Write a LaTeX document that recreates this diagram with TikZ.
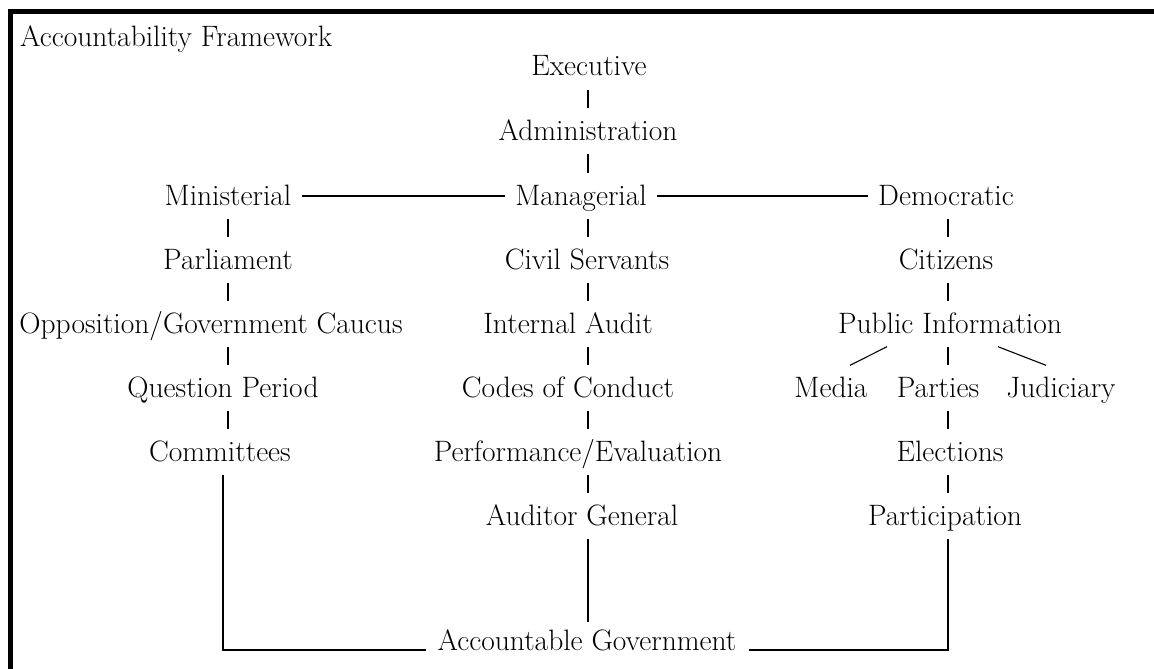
\documentclass[tikz,border=0pt]{standalone}
\begin{document}
\begin{tikzpicture}[x=1pt,y=-1pt,
  lbl/.style={anchor=base, font=\fontsize{29.5}{34}\selectfont,
    text height=18pt, text depth=0pt, inner xsep=10pt, inner ysep=13.5pt},
  link/.style={line width=1.1pt}]
\useasboundingbox (0,0) rectangle (1154,669);
\fill[white] (0,0) rectangle (1154,669);
% frame: left and top rules only
\draw[line width=5pt, line join=miter] (10.5,669) -- (10.5,11.5) -- (1154,11.5);

% column axes and helper positions
\coordinate (colL) at (228,0);
\coordinate (colM) at (588,0);
\coordinate (colR) at (948,0);
\coordinate (colB) at (223,0);
\coordinate (floor) at (0,650);
\coordinate (dA) at (887,0);
\coordinate (dB) at (850,0);
\coordinate (dC) at (998,0);
\coordinate (dD) at (1046,0);

\node[lbl, anchor=base west, inner sep=0pt] (title) at (20,47) {Accountability Framework};

% centre column
\node[lbl] (exec)  at (589,76)  {Executive};
\node[lbl] (admin) at (588,140) {Administration};
\node[lbl] (mgr)   at (581,205) {Managerial};
\node[lbl] (civ)   at (587,269) {Civil Servants};
\node[lbl] (ia)    at (568,333) {Internal Audit};
\node[lbl] (codes) at (568,397) {Codes of Conduct};
\node[lbl] (perf)  at (578,461) {Performance/Evaluation};
\node[lbl] (aud)   at (582,525) {Auditor General};

% left column
\node[lbl] (min)   at (228,205) {Ministerial};
\node[lbl] (parl)  at (228,269) {Parliament};
\node[lbl] (opp)   at (211,333) {Opposition/Government Caucus};
\node[lbl] (qp)    at (223,397) {Question Period};
\node[lbl] (comm)  at (220,461) {Committees};

% right column
\node[lbl] (dem)   at (946,205) {Democratic};
\node[lbl] (cit)   at (946,269) {Citizens};
\node[lbl] (pub)   at (950,333) {Public Information};
\node[lbl] (media) at (831,397) {Media};
\node[lbl] (par)   at (938,397) {Parties};
\node[lbl] (jud)   at (1061,397) {Judiciary};
\node[lbl] (elec)  at (950,461) {Elections};
\node[lbl] (part)  at (945,525) {Participation};

\node[lbl, inner xsep=12pt, inner ysep=10pt] (acc) at (587,650) {Accountable Government};

% centre chain
\draw[link] (exec.south -| colM) -- (admin.north -| colM);
\draw[link] (admin.south -| colM) -- (mgr.north -| colM);
\draw[link] (mgr.south -| colM) -- (civ.north -| colM);
\draw[link] (civ.south -| colM) -- (ia.north -| colM);
\draw[link] (ia.south -| colM) -- (codes.north -| colM);
\draw[link] (codes.south -| colM) -- (perf.north -| colM);
\draw[link] (perf.south -| colM) -- (aud.north -| colM);
\draw[link] (aud.south -| colM) -- (acc.north -| colM);

% cross links
\draw[link] (min.east) -- (mgr.west);
\draw[link] (mgr.east) -- (dem.west);

% left chain
\draw[link] (min.south -| colL) -- (parl.north -| colL);
\draw[link] (parl.south -| colL) -- (opp.north -| colL);
\draw[link] (opp.south -| colL) -- (qp.north -| colL);
\draw[link] (qp.south -| colL) -- (comm.north -| colL);
\draw[link] (comm.south -| colB) -- (floor -| colB) -- (acc.base west);

% right chain
\draw[link] (dem.south -| colR) -- (cit.north -| colR);
\draw[link] (cit.south -| colR) -- (pub.north -| colR);
\draw[link] (pub.south -| dA) -- (media.north -| dB);
\draw[link] (pub.south -| colR) -- (par.north -| colR);
\draw[link] (pub.south -| dC) -- (jud.north -| dD);
\draw[link] (par.south -| colR) -- (elec.north -| colR);
\draw[link] (elec.south -| colR) -- (part.north -| colR);
\draw[link] (acc.base east) -- (floor -| colR) -- (part.south -| colR);
\end{tikzpicture}
\end{document}
